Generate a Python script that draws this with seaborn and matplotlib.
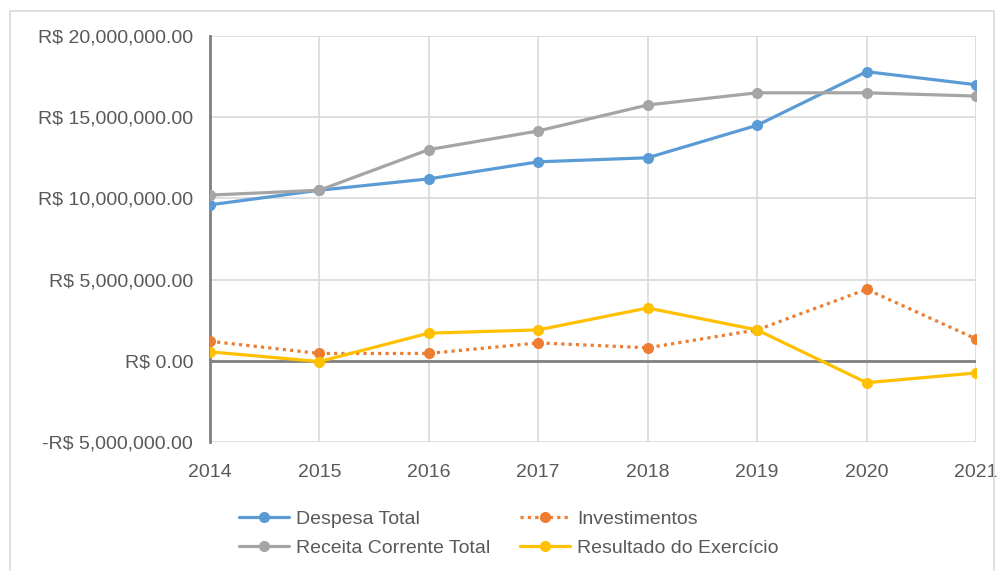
import pandas as pd
import matplotlib.pyplot as plt
import matplotlib.ticker as mticker
from matplotlib.patches import Rectangle
import seaborn as sns

# DATA (R$)
years = [2014, 2015, 2016, 2017, 2018, 2019, 2020, 2021]
despesa_total = [9.6e6, 10.5e6, 11.2e6, 12.25e6, 12.5e6, 14.5e6, 17.8e6, 17.0e6]
investimentos = [1.2e6, 0.45e6, 0.45e6, 1.1e6, 0.8e6, 1.9e6, 4.4e6, 1.35e6]
receita_corrente = [10.2e6, 10.5e6, 13.0e6, 14.15e6, 15.75e6, 16.5e6, 16.5e6, 16.3e6]
resultado = [0.55e6, -0.05e6, 1.7e6, 1.9e6, 3.25e6, 1.9e6, -1.35e6, -0.75e6]

series = {
    "Despesa Total": despesa_total,
    "Receita Corrente Total": receita_corrente,
    "Investimentos": investimentos,
    "Resultado do Exercício": resultado,
}
rows = []
for name, vals in series.items():
    for y, v in zip(years, vals):
        rows.append({"ano": y, "valor": v, "serie": name})
df = pd.DataFrame(rows)

palette = {
    "Despesa Total": "#5B9BD5",
    "Receita Corrente Total": "#A5A5A5",
    "Investimentos": "#ED7D31",
    "Resultado do Exercício": "#FFC000",
}
dashes = {
    "Despesa Total": "",
    "Receita Corrente Total": "",
    "Investimentos": (1, 1.3),
    "Resultado do Exercício": "",
}

sns.set_style("white")
plt.rcParams['font.family'] = ['Liberation Sans', 'DejaVu Sans']

fig = plt.figure(figsize=(9.99, 5.71), dpi=100)
ax = fig.add_axes([0.21, 0.226, 0.767, 0.711])

sns.lineplot(
    data=df, x="ano", y="valor", hue="serie", style="serie",
    hue_order=list(series.keys()), style_order=list(series.keys()),
    palette=palette, dashes=dashes, markers={k: "o" for k in series},
    markersize=8, linewidth=2.3, markeredgewidth=0, ax=ax, zorder=3,
)

ax.set_xlim(2014, 2021)
ax.set_ylim(-5e6, 20e6)
ax.set_xticks(years)
ax.yaxis.set_major_locator(mticker.MultipleLocator(5e6))


def brl(v, pos):
    s = f"R$ {abs(v):,.2f}"
    return "-" + s if v < 0 else s


ax.yaxis.set_major_formatter(mticker.FuncFormatter(brl))
ax.grid(True, color="#D9D9D9", linewidth=1.2)
ax.axhline(0, color="#808080", linewidth=2, zorder=2)
for side in ["top", "right", "bottom"]:
    ax.spines[side].set_visible(False)
ax.spines["left"].set_color("#808080")
ax.spines["left"].set_linewidth(2)
ax.tick_params(axis="both", length=0, labelsize=14, colors="#595959")
ax.tick_params(axis="x", pad=16)
ax.tick_params(axis="y", pad=12)
ax.set_xlabel("")
ax.set_ylabel("")

handles, labels = ax.get_legend_handles_labels()
order = ["Despesa Total", "Receita Corrente Total", "Investimentos", "Resultado do Exercício"]
hmap = dict(zip(labels, handles))
ax.legend([hmap[k] for k in order], order, ncol=2, frameon=False,
          loc="upper left", bbox_to_anchor=(0.015, -0.125), fontsize=14,
          labelcolor="#595959", handlelength=2.6, columnspacing=1.5,
          labelspacing=0.6, handletextpad=0.35)

fig.patches.append(Rectangle((0.01, -0.02), 0.985, 1.0, transform=fig.transFigure,
                             fill=False, edgecolor="#D9D9D9", linewidth=1.2))

plt.savefig("out.png", dpi=100)
